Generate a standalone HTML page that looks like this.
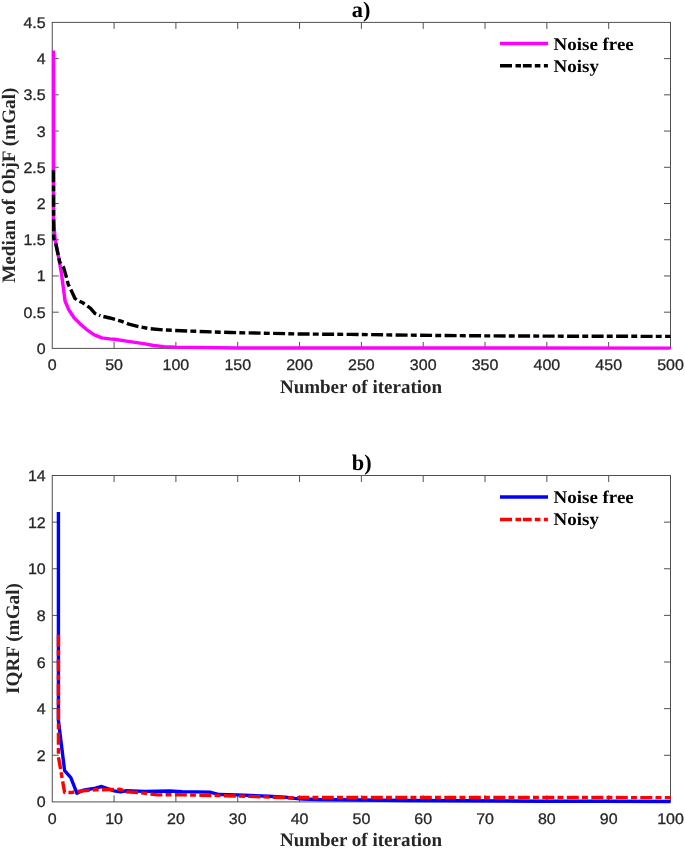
<!DOCTYPE html><html><head><meta charset="utf-8"><style>html,body{margin:0;padding:0;background:#fff;width:685px;height:848px;overflow:hidden}svg{display:block;will-change:transform;text-rendering:geometricPrecision}</style></head><body><svg width="685" height="848" viewBox="0 0 685 848">
<style>.tk{font-family:"Liberation Sans",sans-serif;font-size:16px;fill:#262626;stroke:#262626;stroke-width:0.3px}.lb{font-family:"Liberation Serif",serif;font-weight:bold;font-size:19px;fill:#262626}.lg{font-family:"Liberation Serif",serif;font-weight:bold;font-size:17.8px;fill:#000}.tt{font-family:"Liberation Serif",serif;font-weight:bold;font-size:22.4px;fill:#000}</style>
<rect width="685" height="848" fill="#fff"/>
<rect x="52.25" y="22.4" width="618.25" height="326.0" fill="none" stroke="#505050" stroke-width="1"/>
<path d="M114.08 348.4v-6.5M114.08 22.4v6.5M175.9 348.4v-6.5M175.9 22.4v6.5M237.72 348.4v-6.5M237.72 22.4v6.5M299.55 348.4v-6.5M299.55 22.4v6.5M361.38 348.4v-6.5M361.38 22.4v6.5M423.2 348.4v-6.5M423.2 22.4v6.5M485.02 348.4v-6.5M485.02 22.4v6.5M546.85 348.4v-6.5M546.85 22.4v6.5M608.68 348.4v-6.5M608.68 22.4v6.5M52.25 312.18h6.5M670.5 312.18h-6.5M52.25 275.96h6.5M670.5 275.96h-6.5M52.25 239.73h6.5M670.5 239.73h-6.5M52.25 203.51h6.5M670.5 203.51h-6.5M52.25 167.29h6.5M670.5 167.29h-6.5M52.25 131.07h6.5M670.5 131.07h-6.5M52.25 94.84h6.5M670.5 94.84h-6.5M52.25 58.62h6.5M670.5 58.62h-6.5" stroke="#505050" stroke-width="1" fill="none"/>
<polyline points="53.49,50.58 53.61,220.17 55.16,239.73 58.19,254.95 61.28,272.33 63.50,289.00 65.11,301.31 68.94,310.00 74.26,317.97 80.44,324.13 86.62,329.56 94.29,334.93 101.83,337.90 109.75,338.84 114.32,339.27 126.44,341.16 143.63,343.69 153.64,345.50 164.03,346.59 175.90,347.10 237.72,347.97 670.50,348.11" fill="none" stroke="#ff00ff" stroke-width="3.4" stroke-linejoin="round"/>
<polyline points="53.49,170.19 53.73,238.28 55.84,244.08 58.19,254.95 59.79,262.19 63.50,267.26 65.85,275.23 68.20,284.29 71.29,290.44 75.00,298.41 78.22,300.59 82.79,302.76 90.33,308.12 94.91,313.41 100.35,315.80" fill="none" stroke="#000" stroke-width="3.4" stroke-dasharray="12 3.2 5.9 3.4" stroke-dashoffset="0" stroke-linejoin="round"/>
<polyline points="100.35,315.80 109.75,317.97 120.26,320.87 128.91,324.13 138.81,326.67 149.81,328.70 163.53,329.93 187.40,331.01 230.80,332.53 262.46,333.19 299.80,333.98 349.88,334.42 439.89,335.50 489.97,335.87 571.58,336.23 670.50,336.37" fill="none" stroke="#000" stroke-width="3.4" stroke-dasharray="12 3.2 5.9 3.4" stroke-dashoffset="21.38" stroke-linejoin="round"/>
<text transform="translate(52.25,370.2) scale(1,0.96)" class="tk" text-anchor="middle">0</text>
<text transform="translate(114.08,370.2) scale(1,0.96)" class="tk" text-anchor="middle">50</text>
<text transform="translate(175.90,370.2) scale(1,0.96)" class="tk" text-anchor="middle">100</text>
<text transform="translate(237.72,370.2) scale(1,0.96)" class="tk" text-anchor="middle">150</text>
<text transform="translate(299.55,370.2) scale(1,0.96)" class="tk" text-anchor="middle">200</text>
<text transform="translate(361.38,370.2) scale(1,0.96)" class="tk" text-anchor="middle">250</text>
<text transform="translate(423.20,370.2) scale(1,0.96)" class="tk" text-anchor="middle">300</text>
<text transform="translate(485.02,370.2) scale(1,0.96)" class="tk" text-anchor="middle">350</text>
<text transform="translate(546.85,370.2) scale(1,0.96)" class="tk" text-anchor="middle">400</text>
<text transform="translate(608.68,370.2) scale(1,0.96)" class="tk" text-anchor="middle">450</text>
<text transform="translate(670.50,370.2) scale(1,0.96)" class="tk" text-anchor="middle">500</text>
<text transform="translate(45.7,353.90) scale(1,0.96)" class="tk" text-anchor="end">0</text>
<text transform="translate(45.7,317.68) scale(1,0.96)" class="tk" text-anchor="end">0.5</text>
<text transform="translate(45.7,281.46) scale(1,0.96)" class="tk" text-anchor="end">1</text>
<text transform="translate(45.7,245.23) scale(1,0.96)" class="tk" text-anchor="end">1.5</text>
<text transform="translate(45.7,209.01) scale(1,0.96)" class="tk" text-anchor="end">2</text>
<text transform="translate(45.7,172.79) scale(1,0.96)" class="tk" text-anchor="end">2.5</text>
<text transform="translate(45.7,136.57) scale(1,0.96)" class="tk" text-anchor="end">3</text>
<text transform="translate(45.7,100.34) scale(1,0.96)" class="tk" text-anchor="end">3.5</text>
<text transform="translate(45.7,64.12) scale(1,0.96)" class="tk" text-anchor="end">4</text>
<text transform="translate(45.7,27.90) scale(1,0.96)" class="tk" text-anchor="end">4.5</text>
<text x="361" y="393" class="lb" text-anchor="middle">Number of iteration</text>
<text transform="translate(14.6,185.2) rotate(-90) scale(1.012,1)" class="lb" text-anchor="middle">Median of ObjF (mGal)</text>
<text x="361.2" y="16.8" class="tt" text-anchor="middle">a)</text>
<line x1="500" y1="43.6" x2="548" y2="43.6" stroke="#ff00ff" stroke-width="3.5"/>
<line x1="500" y1="65.8" x2="548" y2="65.8" stroke="#000" stroke-width="3.5" stroke-dasharray="12 3.5 5.5 1.9 8.8 3.1 5.6 3.5 4 100"/>
<text transform="translate(553.6,49.7) scale(1.065,1)" class="lg">Noise free</text>
<text transform="translate(553.6,72.1) scale(1.065,1)" class="lg">Noisy</text>
<rect x="52.25" y="475.5" width="618.25" height="326.4" fill="none" stroke="#505050" stroke-width="1"/>
<path d="M114.08 801.9v-6.5M114.08 475.5v6.5M175.9 801.9v-6.5M175.9 475.5v6.5M237.72 801.9v-6.5M237.72 475.5v6.5M299.55 801.9v-6.5M299.55 475.5v6.5M361.38 801.9v-6.5M361.38 475.5v6.5M423.2 801.9v-6.5M423.2 475.5v6.5M485.02 801.9v-6.5M485.02 475.5v6.5M546.85 801.9v-6.5M546.85 475.5v6.5M608.68 801.9v-6.5M608.68 475.5v6.5M52.25 755.27h6.5M670.5 755.27h-6.5M52.25 708.64h6.5M670.5 708.64h-6.5M52.25 662.01h6.5M670.5 662.01h-6.5M52.25 615.39h6.5M670.5 615.39h-6.5M52.25 568.76h6.5M670.5 568.76h-6.5M52.25 522.13h6.5M670.5 522.13h-6.5" stroke="#505050" stroke-width="1" fill="none"/>
<polyline points="58.43,512.10 58.43,720.77 64.61,770.66 70.80,777.65 76.98,793.27 83.16,790.24 95.53,788.14 101.71,786.51 114.08,790.94 120.26,791.87 126.44,790.71 144.99,791.41 169.72,790.94 182.08,791.64 209.90,792.11 219.18,794.56 237.72,794.91 250.09,795.49 268.64,796.30 285.33,797.24 294.60,798.40 302.64,798.99 318.10,799.57 361.38,800.03 404.65,800.50 460.30,800.78 540.67,801.20 602.49,801.32 670.50,801.43" fill="none" stroke="#0000ff" stroke-width="3.4" stroke-linejoin="round"/>
<polyline points="58.43,633.80 58.43,756.90 64.61,792.57 70.80,792.57 83.16,790.71 95.53,789.78 114.08,789.54 120.26,789.31 126.44,791.87 138.81,792.57 157.35,794.91 175.90,794.67 219.18,795.61 237.72,796.07 281.00,797.47 293.37,797.94 299.55,797.47 670.50,797.59" fill="none" stroke="#ff0000" stroke-width="3.4" stroke-dasharray="12 3.2 5.9 3.4" stroke-dashoffset="23.59" stroke-linejoin="round"/>
<text transform="translate(52.25,823.6) scale(1,0.96)" class="tk" text-anchor="middle">0</text>
<text transform="translate(114.08,823.6) scale(1,0.96)" class="tk" text-anchor="middle">10</text>
<text transform="translate(175.90,823.6) scale(1,0.96)" class="tk" text-anchor="middle">20</text>
<text transform="translate(237.72,823.6) scale(1,0.96)" class="tk" text-anchor="middle">30</text>
<text transform="translate(299.55,823.6) scale(1,0.96)" class="tk" text-anchor="middle">40</text>
<text transform="translate(361.38,823.6) scale(1,0.96)" class="tk" text-anchor="middle">50</text>
<text transform="translate(423.20,823.6) scale(1,0.96)" class="tk" text-anchor="middle">60</text>
<text transform="translate(485.02,823.6) scale(1,0.96)" class="tk" text-anchor="middle">70</text>
<text transform="translate(546.85,823.6) scale(1,0.96)" class="tk" text-anchor="middle">80</text>
<text transform="translate(608.68,823.6) scale(1,0.96)" class="tk" text-anchor="middle">90</text>
<text transform="translate(670.50,823.6) scale(1,0.96)" class="tk" text-anchor="middle">100</text>
<text transform="translate(45.7,807.40) scale(1,0.96)" class="tk" text-anchor="end">0</text>
<text transform="translate(45.7,760.77) scale(1,0.96)" class="tk" text-anchor="end">2</text>
<text transform="translate(45.7,714.14) scale(1,0.96)" class="tk" text-anchor="end">4</text>
<text transform="translate(45.7,667.51) scale(1,0.96)" class="tk" text-anchor="end">6</text>
<text transform="translate(45.7,620.89) scale(1,0.96)" class="tk" text-anchor="end">8</text>
<text transform="translate(45.7,574.26) scale(1,0.96)" class="tk" text-anchor="end">10</text>
<text transform="translate(45.7,527.63) scale(1,0.96)" class="tk" text-anchor="end">12</text>
<text transform="translate(45.7,481.00) scale(1,0.96)" class="tk" text-anchor="end">14</text>
<text x="361" y="846" class="lb" text-anchor="middle">Number of iteration</text>
<text transform="translate(18.7,638.5) rotate(-90) scale(1.012,1)" class="lb" text-anchor="middle">IQRF (mGal)</text>
<text x="361.8" y="470.1" class="tt" text-anchor="middle">b)</text>
<line x1="500" y1="497" x2="548" y2="497" stroke="#0000ff" stroke-width="3.5"/>
<line x1="500" y1="519.5" x2="548" y2="519.5" stroke="#ff0000" stroke-width="3.5" stroke-dasharray="12 3.5 5.5 1.9 8.8 3.1 5.6 3.5 4 100"/>
<text transform="translate(553.6,502.7) scale(1.065,1)" class="lg">Noise free</text>
<text transform="translate(553.6,525.1) scale(1.065,1)" class="lg">Noisy</text>
</svg></body></html>
